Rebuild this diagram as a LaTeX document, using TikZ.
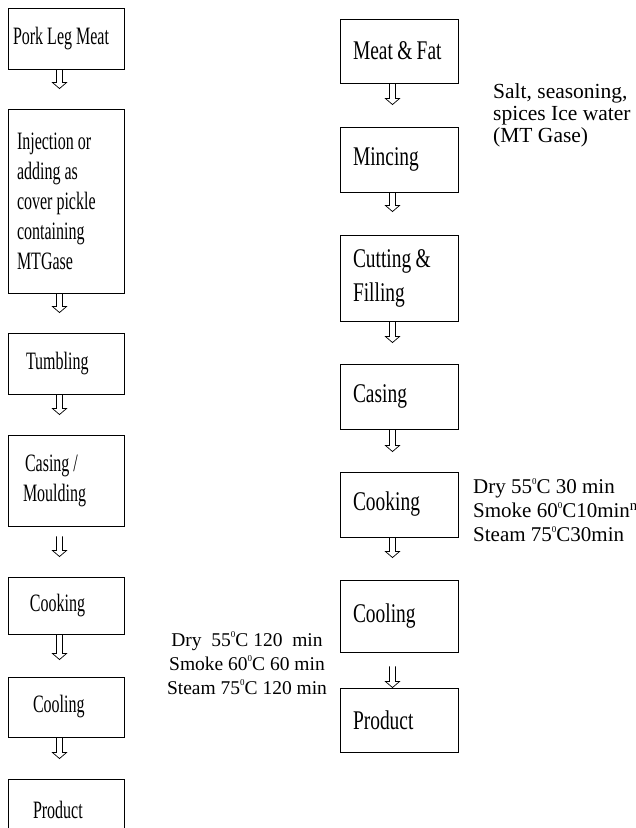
\documentclass[tikz,border=0pt]{standalone}
\usepackage{fontspec}
\setmainfont{Liberation Serif}
\newfontfamily\leftfont[FakeStretch=0.64]{Liberation Serif}
\newfontfamily\rightfont[FakeStretch=0.72]{Liberation Serif}
\usetikzlibrary{calc}
\newcommand{\dg}{\raisebox{0.42em}{\fontsize{9}{9}\selectfont 0}}
\newcommand{\ws}{\kern0.16em\relax}

\begin{document}
\begin{tikzpicture}
[x=1pt,y=-1pt,
  ga/.store in=\ga, gb/.store in=\gb, ga=0pt, gb=20pt,
  leftdecorate/.style 2 args={draw,line width=0.9pt,align=left,inner ysep=0pt,%
    inner xsep=#1,text width=#2,font=\leftfont\fontsize{25}{30}\selectfont},
  rightdecorate/.style={draw,line width=0.9pt,align=left,inner ysep=0pt,%
    inner xsep=13pt,text width=92pt,font=\rightfont\fontsize{27}{34}\selectfont},
  notedecorate/.style={inner sep=0pt,font=\fontsize{21}{24}\selectfont},
  flowdecorate/.style={draw,line width=0.7pt,to path={let \p1=(\tikztostart), \p2=(\tikztotarget) in
    (\x1-9.5pt,\y1-\ga) -- (\x1-9.5pt,\y2+\gb+6pt) -- (\x1-13.5pt,\y2+\gb+6pt) -- (\x1-6.5pt,\y2+\gb)
    -- (\x1+0.5pt,\y2+\gb+6pt) -- (\x1-3.5pt,\y2+\gb+6pt) -- (\x1-3.5pt,\y1-\ga)}}]
\useasboundingbox (0,0) rectangle (636,828);
% left column
\node (l1) at (66,38.5) [leftdecorate={5pt}{106pt},minimum height=61pt] {Pork\ws Leg\ws Meat};
\node (l2) at (66,201) [leftdecorate={9pt}{98pt},minimum height=184pt] {Injection\ws or\\adding\ws as\\cover\ws pickle\\containing\\MTGase};
\node (l3) at (66,363.5) [leftdecorate={18pt}{80pt},minimum height=61pt] {Tumbling};
\node (l4) at (66,480.5) [leftdecorate={15pt}{86pt},minimum height=91pt] {\hspace*{2pt}Casing\ws /\\Moulding};
\node (l5) at (66,605.5) [leftdecorate={22pt}{72pt},minimum height=57pt] {Cooking};
\node (l6) at (66,707) [leftdecorate={25pt}{66pt},minimum height=60pt] {Cooling};
\node (l7) at (66,809.5) [leftdecorate={25pt}{66pt},minimum height=61pt] {Product};
% right column
\node (r1) at (399,51) [rightdecorate,minimum height=64pt] {Meat\ws\&\ws Fat};
\node (r2) at (399,159.5) [rightdecorate,minimum height=65pt] {Mincing};
\node (r3) at (399,278) [rightdecorate,minimum height=86pt] {Cutting\ws\&\\Filling};
\node (r4) at (399,396.5) [rightdecorate,minimum height=65pt] {Casing};
\node (r5) at (399,504.5) [rightdecorate,minimum height=65pt] {Cooking};
\node (r6) at (399,616) [rightdecorate,minimum height=72pt] {Cooling};
\node (r7) at (399,720) [rightdecorate,minimum height=64pt] {Product};
% notes
\node (n1) at (493,83.3) [notedecorate,anchor=north west,align=left,font=\fontsize{21.5}{22}\selectfont]
  {Salt, seasoning,\\spices Ice water\\(MT Gase)};
\node (n2) at (473,478.7) [notedecorate,anchor=north west,align=left]
  {Dry 55\dg C 30 min\\Smoke 60\dg C10min\textsuperscript{n}\\Steam 75\dg C30min};
\node (n3) at (247,631.7) [notedecorate,anchor=north,align=center,font=\fontsize{19.5}{24}\selectfont]
  {Dry~ 55\dg C 120~ min\\Smoke 60\dg C 60 min\\Steam 75\dg C 120 min};
% arrows
\path
(l1.south) edge[flowdecorate] (l2.north)
(l2.south) edge[flowdecorate] (l3.north)
(l3.south) edge[flowdecorate] (l4.north)
(l4.south) edge[flowdecorate,ga=10pt] (l5.north)
(l5.south) edge[flowdecorate,gb=17pt] (l6.north)
(l6.south) edge[flowdecorate] (l7.north)
(r1.south) edge[flowdecorate,gb=22pt] (r2.north)
(r2.south) edge[flowdecorate,gb=23pt] (r3.north)
(r3.south) edge[flowdecorate,gb=21pt] (r4.north)
(r4.south) edge[flowdecorate] (r5.north)
(r5.south) edge[flowdecorate,gb=22pt] (r6.north)
(r6.south) edge[flowdecorate,ga=14pt,gb=0pt] (r7.north);
\end{tikzpicture}
\end{document}
